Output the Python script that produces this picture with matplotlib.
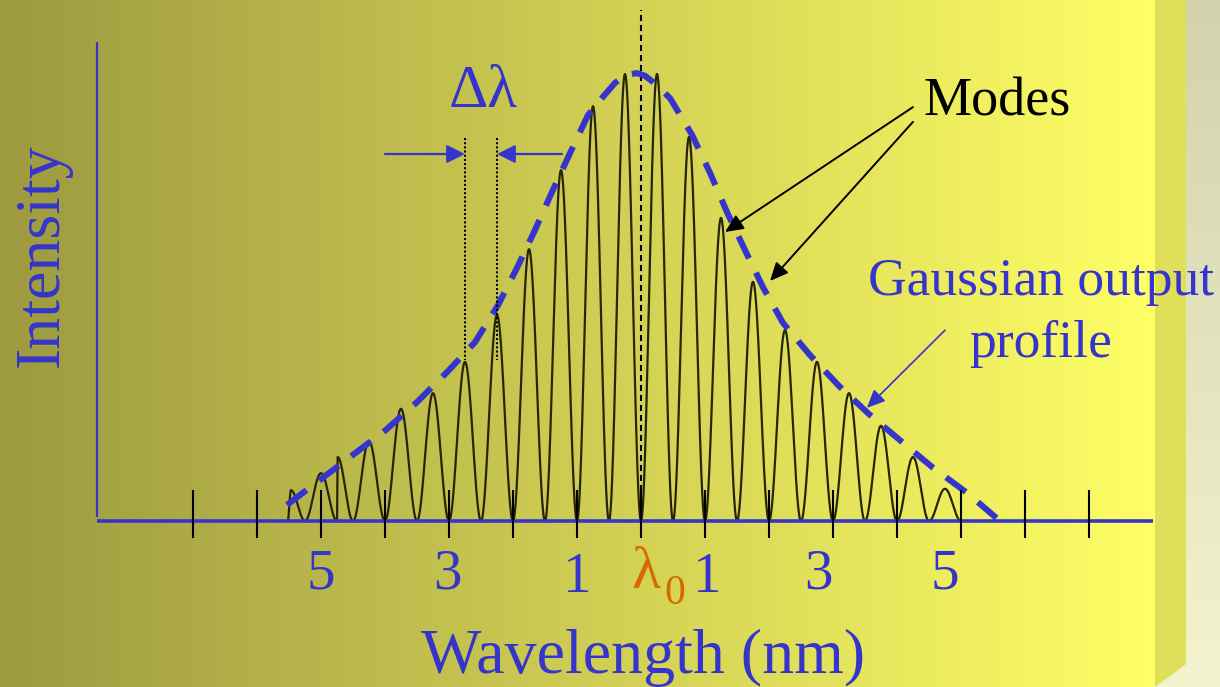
import numpy as np
import matplotlib
matplotlib.use("Agg")
import matplotlib.pyplot as plt
from matplotlib.patches import Polygon

plt.rcParams['font.family'] = ['Liberation Serif', 'DejaVu Serif']

# ---- data -------------------------------------------------------------
# longitudinal modes: peak wavelength offset (nm), lobe edges (nm), intensity
mode_center_nm = [-5.47, -5.0, -4.74, -4.25, -3.75, -3.25, -2.75, -2.25,
                  -1.75, -1.25, -0.75, -0.25, 0.25, 0.75, 1.25, 1.75,
                  2.25, 2.75, 3.25, 3.75, 4.25, 4.75]
mode_left_nm = [-5.52, -5.25, -4.75, -4.5, -4.0, -3.5, -3.0, -2.5,
                -2.0, -1.5, -1.0, -0.5, 0.0, 0.5, 1.0, 1.5,
                2.0, 2.5, 3.0, 3.5, 4.0, 4.5]
mode_right_nm = [-5.25, -4.75, -4.5, -4.0, -3.5, -3.0, -2.5, -2.0,
                 -1.5, -1.0, -0.5, 0.0, 0.5, 1.0, 1.5, 2.0,
                 2.5, 3.0, 3.5, 4.0, 4.5, 5.0]
mode_intensity = [0.069, 0.107, 0.143, 0.179, 0.251, 0.286, 0.356, 0.461,
                  0.608, 0.785, 0.928, 1.0, 1.0, 0.859, 0.678, 0.535,
                  0.427, 0.356, 0.286, 0.213, 0.143, 0.072]

# output envelope (nm, intensity)
envelope_nm = [-5.531, -5.016, -4.500, -3.984, -3.500, -3.031, -2.594, -2.234,
               -1.938, -1.656, -1.391, -1.109, -0.828, -0.594, -0.406, -0.234,
               -0.0625, 0.0625, 0.1875, 0.453, 0.797, 1.078, 1.344, 1.625,
               1.906, 2.219, 2.641, 3.094, 3.563, 4.078, 4.563, 5.094, 5.609]
envelope_intensity = [0.036, 0.092, 0.148, 0.204, 0.266, 0.333, 0.400, 0.483,
                      0.566, 0.651, 0.736, 0.823, 0.908, 0.949, 0.980, 0.998,
                      1.002, 0.996, 0.982, 0.946, 0.864, 0.779, 0.691, 0.606,
                      0.523, 0.443, 0.371, 0.302, 0.239, 0.177, 0.119, 0.063, 0.0]

tick_nm = list(range(-7, 8))
tick_label_text = ["5", "3", "1", "1", "3", "5"]
tick_label_nm = [-5.0, -3.03, -1.0, 1.03, 2.77, 4.75]
tick_label_base = [-0.150, -0.150, -0.159, -0.159, -0.150, -0.150]

BLUE = '#3535cc'
ORANGE = '#d66a00'
MODE_COLOR = '#262604'

W, H = 1220, 687
fig = plt.figure(figsize=(W / 100, H / 100), dpi=100)

# ---- slide background --------------------------------------------------
bg = fig.add_axes([0, 0, 1, 1])
bg.set_xlim(0, W)
bg.set_ylim(H, 0)
bg.axis('off')

edge = 1155
t = np.clip(np.arange(edge) / edge, 0, 1)
c0 = np.array([157, 154, 64]) / 255
c1 = np.array([255, 255, 102]) / 255
row = c0[None, :] * (1 - t[:, None]) + c1[None, :] * t[:, None]
bg.imshow(row[None, :, :], extent=[0, edge, H, 0], aspect='auto', zorder=0)

tv = np.linspace(0, 1, 200)
s0 = np.array([210, 210, 172]) / 255
s1 = np.array([243, 243, 206]) / 255
col = s0[None, :] * (1 - tv[:, None]) + s1[None, :] * tv[:, None]
bg.imshow(col[:, None, :], extent=[edge, W, H, 0], aspect='auto', zorder=0)
bg.add_patch(Polygon([[edge, 0], [1186, 0], [1186, 664], [edge, H]],
                     closed=True, color='#dfdf5a', lw=0, zorder=1))

# ---- main plot ---------------------------------------------------------
ax = fig.add_axes([0, 0, 1, 1])
ax.patch.set_alpha(0)
ax.set_xlim(-641 / 64, (W - 641) / 64)
ax.set_ylim((521 - H) / 447, 521 / 447)
ax.axis('off')

# mode comb: each mode is a raised-cosine lobe between its edges
for c, l, r, h in zip(mode_center_nm, mode_left_nm, mode_right_nm, mode_intensity):
    xa = np.linspace(l, c, 150)
    ya = h * 0.5 * (1 - np.cos(np.pi * (xa - l) / (c - l)))
    xb = np.linspace(c, r, 150)
    yb = h * 0.5 * (1 + np.cos(np.pi * (xb - c) / (r - c)))
    ax.plot(np.r_[xa, xb], np.r_[ya, yb], color=MODE_COLOR, lw=1.6,
            solid_joinstyle='round', zorder=4)

# envelope
ax.plot(envelope_nm, envelope_intensity, color=BLUE, lw=4.4,
        linestyle=(0, (4.0, 2.6)), dash_capstyle='butt', zorder=5)

# axes lines
ax.plot([-8.5, 8.0], [0, 0], color=BLUE, lw=2.6, zorder=6,
        solid_capstyle='butt')
ax.plot([-8.5, -8.5], [0.009, 1.0716], color=BLUE, lw=1.6, zorder=6,
        solid_capstyle='butt')

# ticks
for tk in tick_nm:
    ax.plot([tk, tk], [0.069, -0.038], color='black', lw=1.5, zorder=7,
            solid_capstyle='butt')

# centre wavelength marker
ax.plot([0, 0], [0, 1.143], color='black', lw=1.5,
        linestyle=(0, (2.9, 1.9)), zorder=3)

# tick labels
for txt, xn, yb in zip(tick_label_text, tick_label_nm, tick_label_base):
    ax.text(xn, yb, txt, color=BLUE, fontsize=41, ha='center', va='baseline')
ax.text(0.07, -0.150, "λ", color=ORANGE, fontsize=43, ha='center', va='baseline')
ax.text(0.53, -0.185, "0", color=ORANGE, fontsize=30, ha='center', va='baseline')

# axis titles
ax.text(0.03, -0.340, "Wavelength (nm)", color=BLUE, fontsize=46,
        ha='center', va='baseline')
ax.text(-9.34, 0.595, "Intensity", color=BLUE, fontsize=46, rotation=90,
        ha='center', va='center')

# mode spacing
ax.text(-2.47, 0.926, "Δλ", color=BLUE, fontsize=44, ha='center', va='baseline')
for xm in (mode_center_nm[6], mode_center_nm[7]):
    ax.plot([xm, xm], [0.857, 0.36], color='black', lw=1.5,
            linestyle=(0, (1, 1)), zorder=6)
arrow_blue = dict(arrowstyle='-|>,head_length=1.1,head_width=0.55',
                  mutation_scale=10, color=BLUE, lw=1.6, shrinkA=0, shrinkB=0)
ax.annotate("", xy=(mode_center_nm[6], 0.821), xytext=(-4.0, 0.821),
            arrowprops=arrow_blue, zorder=6)
ax.annotate("", xy=(mode_center_nm[7], 0.821), xytext=(-1.234, 0.821),
            arrowprops=arrow_blue, zorder=6)

# labels with pointers
ax.text(5.5625, 0.908, "Modes", color='black', fontsize=39,
        ha='center', va='baseline')
arrow_black = dict(arrowstyle='-|>,head_length=1.1,head_width=0.5',
                   mutation_scale=10, color='black', lw=1.4, shrinkA=0, shrinkB=0)
ax.annotate("", xy=(1.3125, 0.6465), xytext=(4.25, 0.926),
            arrowprops=arrow_black, zorder=8)
ax.annotate("", xy=(2.016, 0.537), xytext=(4.25, 0.893),
            arrowprops=arrow_black, zorder=8)

ax.text(6.25, 0.5056, "Gaussian output", color=BLUE, fontsize=38.5,
        ha='center', va='baseline')
ax.text(6.25, 0.367, "profile", color=BLUE, fontsize=38.5,
        ha='center', va='baseline')
arrow_thin = dict(arrowstyle='-|>,head_length=1.1,head_width=0.5',
                  mutation_scale=10, color=BLUE, lw=1.2, shrinkA=0, shrinkB=0)
ax.annotate("", xy=(3.53, 0.253), xytext=(4.75, 0.427),
            arrowprops=arrow_thin, zorder=8)

fig.savefig("out.png", dpi=100)
